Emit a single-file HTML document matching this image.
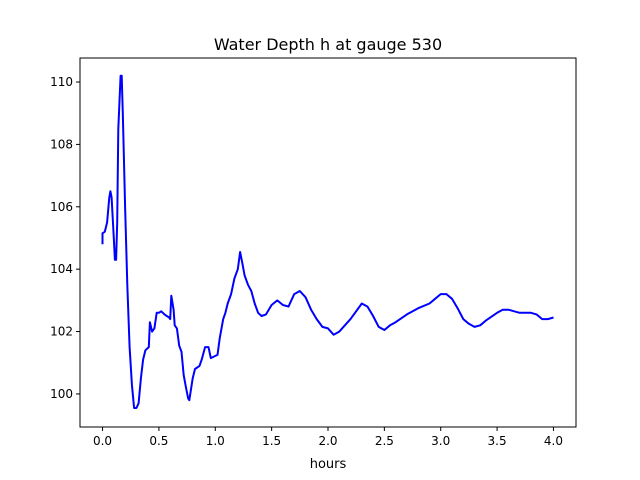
<!DOCTYPE html>
<html><head><meta charset="utf-8"><style>
body{margin:0;background:#fff;}
svg{display:block;font-family:"DejaVu Sans","Liberation Sans",sans-serif;}
</style></head><body>
<svg id="chart" width="640" height="480" xmlns="http://www.w3.org/2000/svg">
<rect width="640" height="480" fill="#fff"/>
<text x="328" y="50" font-size="16" text-anchor="middle" fill="#000">Water Depth h at gauge 530</text>
<g id="ticks"></g>
<path id="series" fill="none" stroke="#0000ff" stroke-width="2" stroke-linejoin="round"/>
<rect x="80" y="58" width="496" height="369" fill="none" stroke="#000" stroke-width="1"/>
<text x="328" y="468" font-size="13" text-anchor="middle">hours</text>
</svg>
<script>
const hours=[0,0,0.02,0.04,0.06,0.07,0.08,0.1,0.11,0.12,0.13,0.14,0.16,0.17,0.18,0.2,0.22,0.24,0.26,0.28,0.3,0.32,0.34,0.36,0.38,0.41,0.42,0.44,0.46,0.48,0.5,0.52,0.55,0.57,0.59,0.6,0.61,0.63,0.64,0.66,0.68,0.7,0.72,0.74,0.76,0.77,0.8,0.82,0.86,0.88,0.91,0.94,0.96,0.99,1.02,1.04,1.07,1.09,1.11,1.14,1.17,1.2,1.22,1.24,1.26,1.29,1.32,1.35,1.38,1.41,1.45,1.5,1.55,1.6,1.65,1.7,1.75,1.8,1.85,1.9,1.95,2.0,2.05,2.1,2.2,2.3,2.35,2.4,2.45,2.5,2.55,2.6,2.7,2.8,2.9,2.95,3.0,3.05,3.1,3.15,3.2,3.25,3.3,3.35,3.4,3.5,3.55,3.6,3.7,3.8,3.85,3.9,3.95,4.0];
const depth=[104.8,105.15,105.2,105.5,106.3,106.5,106.3,105.0,104.3,104.3,105.5,108.5,110.2,110.2,109,106,103.5,101.5,100.3,99.55,99.55,99.7,100.5,101.1,101.4,101.5,102.3,102.0,102.1,102.6,102.6,102.65,102.55,102.5,102.45,102.4,103.15,102.7,102.2,102.1,101.55,101.35,100.6,100.2,99.85,99.8,100.5,100.8,100.9,101.1,101.5,101.5,101.15,101.2,101.25,101.8,102.4,102.6,102.9,103.2,103.7,104.0,104.55,104.2,103.8,103.5,103.3,102.9,102.6,102.5,102.55,102.85,103.0,102.85,102.8,103.2,103.3,103.1,102.7,102.4,102.15,102.1,101.9,102.0,102.4,102.9,102.8,102.5,102.15,102.05,102.2,102.3,102.55,102.75,102.9,103.05,103.2,103.2,103.05,102.75,102.4,102.25,102.15,102.2,102.35,102.6,102.7,102.7,102.6,102.6,102.55,102.4,102.4,102.45];
const xTicks=[0,0.5,1,1.5,2,2.5,3,3.5,4];
const xTickLabels=["0.0","0.5","1.0","1.5","2.0","2.5","3.0","3.5","4.0"];
const yTicks=[100,102,104,106,108,110];
const yTickLabels=["100","102","104","106","108","110"];
const X0=80,X1=576,Y0=427,Y1=58,xmin=-0.2,xmax=4.2,ymin=98.94,ymax=110.77;
const sx=v=>X0+(v-xmin)/(xmax-xmin)*(X1-X0);
const sy=v=>Y0-(v-ymin)/(ymax-ymin)*(Y0-Y1);
const NS="http://www.w3.org/2000/svg";
const g=document.getElementById('ticks');
function mk(t,a){const e=document.createElementNS(NS,t);for(const k in a)e.setAttribute(k,a[k]);return e;}
xTicks.forEach((v,i)=>{
  const l=mk('line',{x1:sx(v),x2:sx(v),y1:Y0,y2:Y0+4,stroke:'#000'});
  
  
  g.appendChild(l);
  const t=mk('text',{x:sx(v),y:Y0+18,'font-size':12,'text-anchor':'middle'});
  
  
  t.textContent=xTickLabels[i];g.appendChild(t);
});
yTicks.forEach((v,i)=>{
  const l=mk('line',{x1:X0-4,x2:X0,y1:sy(v),y2:sy(v),stroke:'#000'});
  
  
  g.appendChild(l);
  const t=mk('text',{x:X0-7,y:sy(v)+4,'font-size':12,'text-anchor':'end'});
  
  
  t.textContent=yTickLabels[i];g.appendChild(t);
});
document.getElementById('series').setAttribute('d',hours.map((h,i)=>(i?'L':'M')+sx(h).toFixed(1)+','+sy(depth[i]).toFixed(1)).join(''));
</script>
</body></html>
